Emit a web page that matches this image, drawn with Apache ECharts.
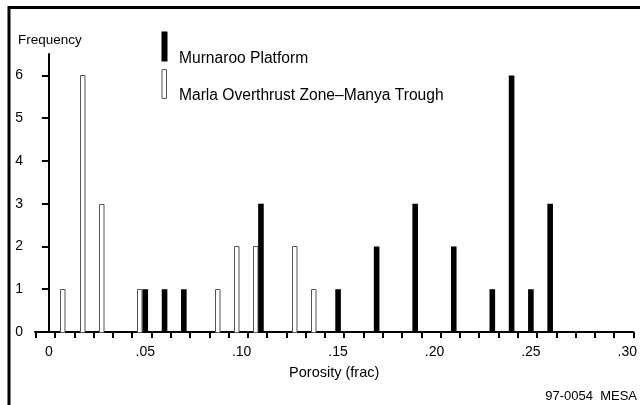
<!DOCTYPE html>
<html>
<head>
<meta charset="utf-8">
<script src="https://cdn.jsdelivr.net/npm/echarts@6/dist/echarts.min.js"></script>
<style>
  html, body { margin: 0; padding: 0; background: #fff; }
  #chart { width: 640px; height: 405px; }
</style>
</head>
<body>
<div id="chart"></div>
<script>
// Porosity histogram for two areas
const murnarooPorosity = [0.05, 0.06, 0.07, 0.11, 0.15, 0.17, 0.19, 0.21, 0.23, 0.24, 0.25, 0.26];
const murnarooCount    = [1,    1,    1,    3,    1,    2,    3,    2,    1,    6,    1,    3];

const marlaPorosity = [0.01, 0.02, 0.03, 0.05, 0.09, 0.10, 0.11, 0.13, 0.14];
const marlaCount    = [1,    6,    3,    1,    1,    2,    2,    2,    1];

const xLabelValues = [0, 0.05, 0.10, 0.15, 0.20, 0.25, 0.30];
const yLabelValues = [0, 1, 2, 3, 4, 5, 6];

const seriesNames = ['Murnaroo Platform', 'Marla Overthrust Zone\u2013Manya Trough'];

// bin boundaries sit between the labelled porosity steps
const binEdges = [];
for (let k = -1; k <= 30; k++) binEdges.push(Math.round((0.0032 + 0.01 * k) * 1e4) / 1e4);

const FONT = '"Liberation Sans", Arial, Helvetica, sans-serif';
const BAR_W = 5.6;

function zip(xs, ys) { return xs.map((x, i) => [x, ys[i]]); }

function fmtPorosity(v) {
  if (v === 0) return '0';
  return v.toFixed(2).replace(/^0/, '');
}

const chart = echarts.init(document.getElementById('chart'), null, { renderer: 'canvas' });

chart.setOption({
  animation: false,
  backgroundColor: '#fff',
  grid: { left: 35, right: 5, top: 54, bottom: 73, containLabel: false },
  xAxis: {
    type: 'value',
    min: -0.0072,
    max: 0.3032,
    name: 'Porosity (frac)',
    nameLocation: 'middle',
    nameGap: 33,
    nameTextStyle: { fontFamily: FONT, fontSize: 14.5, color: '#000' },
    axisLine: { show: true, onZero: false, lineStyle: { color: '#000', width: 2 } },
    axisTick: { show: true, inside: false, length: 6, customValues: binEdges, lineStyle: { color: '#000', width: 2 } },
    axisLabel: {
      show: true, margin: 13, customValues: xLabelValues,
      formatter: fmtPorosity,
      fontFamily: FONT, fontSize: 14, color: '#000'
    },
    splitLine: { show: false }
  },
  yAxis: {
    type: 'value',
    min: 0,
    max: 6.5,
    axisLine: { show: true, lineStyle: { color: '#000', width: 2 } },
    axisTick: { show: true, length: 7, customValues: yLabelValues, lineStyle: { color: '#000', width: 2 } },
    axisLabel: {
      show: true, margin: 12, customValues: yLabelValues,
      fontFamily: FONT, fontSize: 14, color: '#000'
    },
    splitLine: { show: false }
  },
  series: [
    {
      name: seriesNames[1],
      type: 'custom',
      data: zip(marlaPorosity, marlaCount),
      z: 2,
      renderItem: function (params, api) {
        const x = api.value(0), y = api.value(1);
        const top = api.coord([x, y]);
        const base = api.coord([x, 0]);
        const right = Math.round(top[0] - BAR_W / 2);
        const left = right - 5;
        return {
          type: 'rect',
          shape: { x: left + 0.5, y: Math.round(top[1]) + 0.5, width: 4.5, height: base[1] - Math.round(top[1]) },
          style: { fill: '#fff', stroke: '#555', lineWidth: 1 }
        };
      }
    },
    {
      name: seriesNames[0],
      type: 'custom',
      data: zip(murnarooPorosity, murnarooCount),
      z: 3,
      renderItem: function (params, api) {
        const x = api.value(0), y = api.value(1);
        const top = api.coord([x, y]);
        const base = api.coord([x, 0]);
        return {
          type: 'rect',
          shape: { x: top[0] - BAR_W / 2, y: top[1], width: BAR_W, height: base[1] - top[1] },
          style: { fill: '#000' }
        };
      }
    }
  ],
  graphic: [
    // frame along the top and left edges
    { type: 'polyline', shape: { points: [[9, 405], [9, 7.5], [640, 7.5]] }, style: { stroke: '#000', lineWidth: 3, fill: null }, silent: true },
    { type: 'text', left: 18, top: 33, style: { text: 'Frequency', font: '13.5px ' + FONT, fill: '#000' } },
    // legend
    { type: 'rect', shape: { x: 161.5, y: 31.5, width: 6, height: 30 }, style: { fill: '#000' } },
    { type: 'text', left: 179, top: 51, style: { text: seriesNames[0], font: '15.6px ' + FONT, fill: '#000' } },
    { type: 'rect', shape: { x: 162, y: 69.5, width: 4.5, height: 29 }, style: { fill: '#fff', stroke: '#555', lineWidth: 1 } },
    { type: 'text', left: 179, top: 88, style: { text: seriesNames[1], font: '15.6px ' + FONT, fill: '#000' } },
    { type: 'text', right: 3, top: 390, style: { text: '97-0054  MESA', font: '13px ' + FONT, fill: '#000' } }
  ]
});
</script>
</body>
</html>
